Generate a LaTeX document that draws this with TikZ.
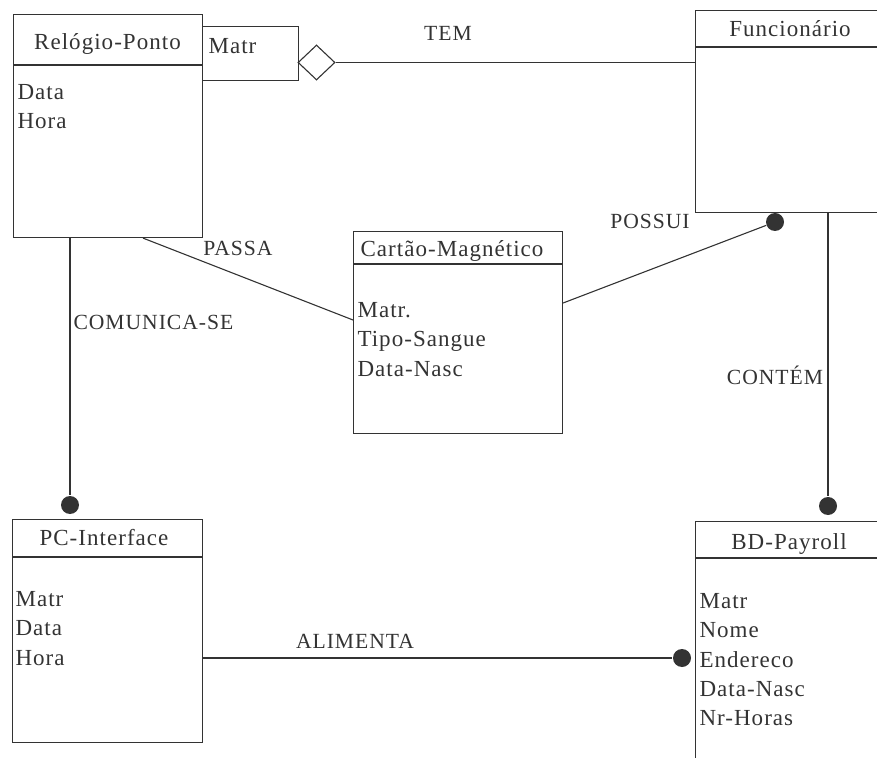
\documentclass[tikz,border=0pt]{standalone}
\usepackage{fontspec}
\setmainfont{Liberation Serif}[LetterSpace=4.5]
\usetikzlibrary{shapes.geometric}
\definecolor{ink}{gray}{0.2}
\tikzset{
    classbox/.style={draw, rectangle, inner sep=0pt, anchor=north west},
    clstitle/.style={inner sep=0pt, anchor=base, font=\fontsize{11.5pt}{14.6pt}\selectfont},
    attrlist/.style={inner sep=0pt, anchor=north west, align=left, font=\fontsize{11.5pt}{14.6pt}\selectfont},
    lbl/.style={inner sep=0pt, anchor=base, font=\fontsize{10.8pt}{13pt}\selectfont},
    blob/.style={circle, fill, inner sep=0pt, minimum size=9pt}
}
\begin{document}
\begin{tikzpicture}[x=0.5pt, y=-0.5pt, line width=0.55pt, color=ink]
    \useasboundingbox (0,0) rectangle (877,758);
    \clip (0,0) rectangle (877,758);
    % classes
    \node[classbox, minimum width=94.5pt, minimum height=111.5pt] (relogio) at (13,14) {};
    \draw ([yshift=-25.5pt]relogio.north west) -- ([yshift=-25.5pt]relogio.north east);
    \node[clstitle] (relogio-t) at (107.5,50) {Relógio-Ponto};
    \node[attrlist] (relogio-a) at (17,84) {Data\\Hora};
    \node[classbox, minimum width=48pt, minimum height=27pt] (qual) at (202,26) {};
    \node[attrlist] (qual-t) at (208,38) {Matr};
    \node[diamond, draw, fill=white, inner sep=0pt, minimum width=18.5pt, minimum height=17.5pt] (agg) at (316.5,62.5) {};
    \node[classbox, minimum width=95pt, minimum height=101pt] (func) at (695,10) {};
    \draw ([yshift=-18.5pt]func.north west) -- ([yshift=-18.5pt]func.north east);
    \node[clstitle] (func-t) at (790,37) {Funcionário};
    \node[classbox, minimum width=104.5pt, minimum height=101pt] (cartao) at (353,231) {};
    \draw ([yshift=-16.5pt]cartao.north west) -- ([yshift=-16.5pt]cartao.north east);
    \node[clstitle] (cartao-t) at (452,257) {Cartão-Magnético};
    \node[attrlist] (cartao-a) at (357,302) {Matr.\\Tipo-Sangue\\Data-Nasc};
    \node[classbox, minimum width=95pt, minimum height=111.5pt] (pc) at (12,519) {};
    \draw ([yshift=-19pt]pc.north west) -- ([yshift=-19pt]pc.north east);
    \node[clstitle] (pc-t) at (104,545) {PC-Interface};
    \node[attrlist] (pc-a) at (15,591) {Matr\\Data\\Hora};
    \node[classbox, minimum width=95pt, minimum height=125pt] (bd) at (695,521) {};
    \draw ([yshift=-18.5pt]bd.north west) -- ([yshift=-18.5pt]bd.north east);
    \node[clstitle] (bd-t) at (789,549) {BD-Payroll};
    \node[attrlist] (bd-a) at (699,593) {Matr\\Nome\\Endereco\\Data-Nasc\\Nr-Horas};
    % association ends
    \node[blob] (pc-blob) at (70,505) {};
    \node[blob] (bd-blob) at (828,506) {};
    \node[blob] (func-blob) at (775,222) {};
    \node[blob] (end-blob) at (682,658) {};
    % associations
    \draw (agg.east) -- (func.west |- agg.east);
    \draw ([xshift=65pt]relogio.south west) -- ([yshift=-44.5pt]cartao.north west);
    \draw (relogio.south -| pc-blob) -- (pc-blob);
    \draw (pc.east |- end-blob) -- (end-blob);
    \draw ([yshift=-36pt]cartao.north east) -- (func-blob);
    \draw (func.south -| bd-blob) -- (bd-blob);
    \node[lbl] (tem) at (448,41) {TEM};
    \node[lbl] (passa) at (238,256) {PASSA};
    \node[lbl] (possui) at (650,229) {POSSUI};
    \node[lbl, anchor=base west] (comunica) at (73,330) {COMUNICA-SE};
    \node[lbl] (contem) at (775,385) {CONTÉM};
    \node[lbl] (alimenta) at (355,648) {ALIMENTA};
\end{tikzpicture}
\end{document}
